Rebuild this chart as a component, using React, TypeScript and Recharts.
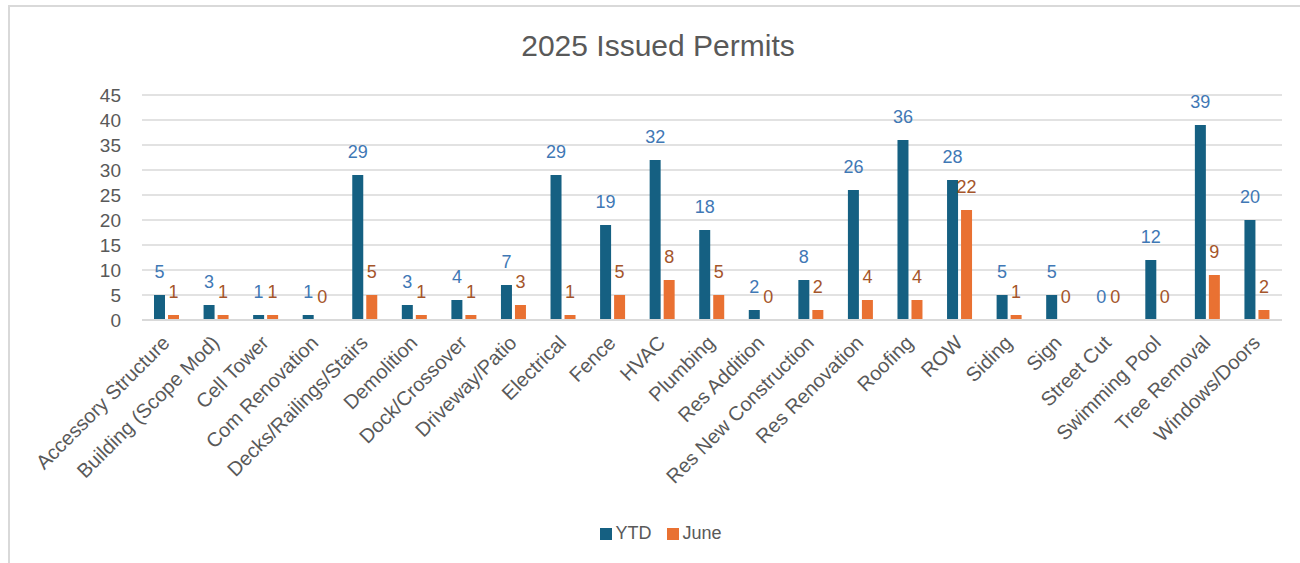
import React from "react";
import {
	BarChart,
	Bar,
	XAxis,
	YAxis,
	CartesianGrid,
	Legend,
	LabelList,
} from "recharts";

const categories = [
	"Accessory Structure",
	"Building (Scope Mod)",
	"Cell Tower",
	"Com Renovation",
	"Decks/Railings/Stairs",
	"Demolition",
	"Dock/Crossover",
	"Driveway/Patio",
	"Electrical",
	"Fence",
	"HVAC",
	"Plumbing",
	"Res Addition",
	"Res New Construction",
	"Res Renovation",
	"Roofing",
	"ROW",
	"Siding",
	"Sign",
	"Street Cut",
	"Swimming Pool",
	"Tree Removal",
	"Windows/Doors",
];

const ytdValues = [5, 3, 1, 1, 29, 3, 4, 7, 29, 19, 32, 18, 2, 8, 26, 36, 28, 5, 5, 0, 12, 39, 20];
const juneValues = [1, 1, 1, 0, 5, 1, 1, 3, 1, 5, 8, 5, 0, 2, 4, 4, 22, 1, 0, 0, 0, 9, 2];

const yTicks = [0, 5, 10, 15, 20, 25, 30, 35, 40, 45];

const FONT = "'Liberation Sans', Arial, sans-serif";
const TEXT_GREY = "#595959";
const legendOrder = ["YTD", "June"];

export default function App() {
	const data = categories.map((name, i) => ({
		name,
		ytd: ytdValues[i],
		june: juneValues[i],
	}));

	return (
		<div
			style={{
				position: "absolute",
				left: 0,
				top: 0,
				width: 1300,
				height: 563,
				background: "#fff",
				fontFamily: FONT,
				overflow: "hidden",
			}}
		>
			{/* chart frame (only left/top edges are visible in the crop) */}
			<div
				style={{
					position: "absolute",
					left: 8,
					top: 5,
					width: 1400,
					height: 700,
					borderLeft: "2px solid #d9d9d9",
					borderTop: "2px solid #d9d9d9",
				}}
			/>
			<div
				style={{
					position: "absolute",
					left: 0,
					top: 29,
					width: 1316,
					textAlign: "center",
					fontSize: 30,
					color: TEXT_GREY,
				}}
			>
				2025 Issued Permits
			</div>
			<div style={{ position: "absolute", left: 0, top: 0 }}>
				<BarChart
					width={1300}
					height={563}
					data={data}
					margin={{ top: 95, right: 18, left: 0, bottom: 19 }}
					barSize={11}
					barGap={3}
				>
					<CartesianGrid vertical={false} stroke="#d9d9d9" strokeWidth={1.6} />
					<XAxis
						dataKey="name"
						interval={0}
						height={203}
						tickLine={false}
						axisLine={{ stroke: "#d9d9d9", strokeWidth: 2 }}
						angle={-45}
						textAnchor="end"
						tickMargin={8}
						dx={-6}
						tick={{ fill: TEXT_GREY, fontSize: 20, fontFamily: FONT }}
					/>
					<YAxis
						domain={[0, 45]}
						ticks={yTicks}
						interval={0}
						width={142}
						axisLine={false}
						tickLine={false}
						tickSize={6}
						tickMargin={15}
						tick={{ fill: TEXT_GREY, fontSize: 19, fontFamily: FONT }}
					/>
					<Legend
						verticalAlign="bottom"
						iconType="square"
						iconSize={12}
						itemSorter={(item) => legendOrder.indexOf(String(item.value))}
						wrapperStyle={{ fontSize: 18, color: TEXT_GREY, fontFamily: FONT, left: 28 }}
						formatter={(v) => (
							<span style={{ color: TEXT_GREY, marginLeft: -1, marginRight: 6 }}>{v}</span>
						)}
					/>
					<Bar
						dataKey="ytd"
						name="YTD"
						fill="#156082"
						minPointSize={0.01}
						isAnimationActive={false}
					>
						<LabelList
							dataKey="ytd"
							position="top"
							offset={17}
							fill="#3f78b5"
							fontSize={18}
							fontFamily={FONT}
						/>
					</Bar>
					<Bar
						dataKey="june"
						name="June"
						fill="#e97132"
						minPointSize={0.01}
						isAnimationActive={false}
					>
						<LabelList
							dataKey="june"
							position="top"
							offset={17}
							fill="#a5552a"
							fontSize={18}
							fontFamily={FONT}
						/>
					</Bar>
				</BarChart>
			</div>
		</div>
	);
}
